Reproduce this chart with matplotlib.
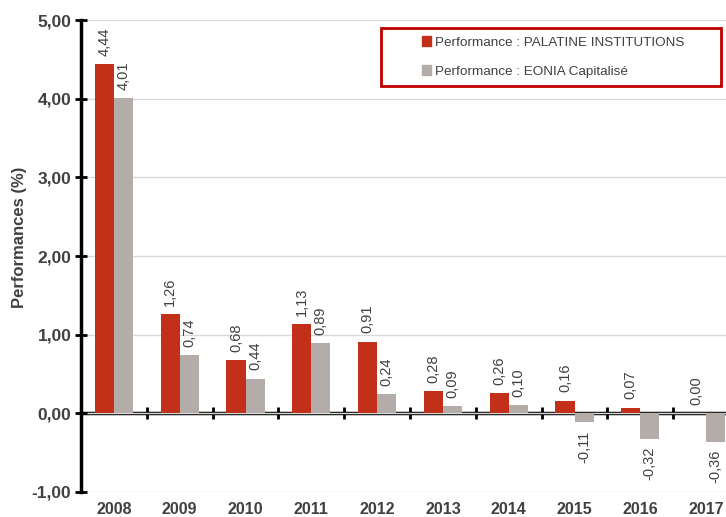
import matplotlib
matplotlib.use("Agg")
import matplotlib.pyplot as plt
from matplotlib.patches import Rectangle, Patch
import numpy as np

years = ["2008", "2009", "2010", "2011", "2012", "2013", "2014", "2015", "2016", "2017"]
palatine = [4.44, 1.26, 0.68, 1.13, 0.91, 0.28, 0.26, 0.16, 0.07, 0.00]
eonia = [4.01, 0.74, 0.44, 0.89, 0.24, 0.09, 0.10, -0.11, -0.32, -0.36]
series_names = ["Performance : PALATINE INSTITUTIONS", "Performance : EONIA Capitalisé"]
y_ticks = [-1, 0, 1, 2, 3, 4, 5]

RED = "#C3301A"
GRAY = "#B4ACA9"
plt.rcParams['font.family'] = ['Liberation Sans', 'DejaVu Sans']

fig = plt.figure(figsize=(7.26, 5.17), dpi=100)
ax = fig.add_axes([81/726, 1-492/517, 1-81/726, (492-20)/517])

x = np.arange(len(years))
w = 0.29
b1 = ax.bar(x - w/2, palatine, w, color=RED, zorder=3)
b2 = ax.bar(x + w/2, eonia, w, color=GRAY, zorder=3)

def fmt(v):
    return f"{v:.2f}".replace(".", ",")

for bars, vals in ((b1, palatine), (b2, eonia)):
    for r, v in zip(bars, vals):
        cx = r.get_x() + r.get_width()/2
        if v >= 0:
            ax.annotate(fmt(v), (cx, v), xytext=(0, 6), textcoords="offset points",
                        rotation=90, ha="center", va="bottom", fontsize=10.5, color="#404040")
        else:
            ax.annotate(fmt(v), (cx, v), xytext=(0, -6), textcoords="offset points",
                        rotation=90, ha="center", va="top", fontsize=10.5, color="#404040")

ax.set_ylim(-1, 5)
ax.set_xlim(-0.5, (726-81)/65.8 - 0.5)
ax.set_yticks(y_ticks)
ax.set_yticklabels([fmt(v) for v in y_ticks], fontweight="bold", fontsize=12.5, color="#404040")
ax.set_xticks(x)
ax.set_xticklabels(years, fontweight="bold", fontsize=11.5, color="#404040")
ax.tick_params(axis="x", length=0, pad=7)
ax.tick_params(axis="y", direction="inout", length=8, width=2, color="black", pad=3)
ax.yaxis.grid(True, color="#D9D9D9", lw=1, zorder=0)
for s in ("top", "right", "bottom"):
    ax.spines[s].set_visible(False)
ax.spines["left"].set_linewidth(2.5)
ax.spines["left"].set_zorder(5)
ax.set_ylabel("Performances (%)", fontweight="bold", fontsize=12, color="#404040", labelpad=4)
ax.yaxis.set_label_coords(-0.083, 0.54)

sec = ax.secondary_xaxis(1/6)
sec.set_xticks(np.arange(len(years)) + 0.5)
sec.set_xticklabels([])
sec.tick_params(direction="inout", length=8, width=2, color="black")
sec.spines["bottom"].set_linewidth(2.5)
sec.spines["bottom"].set_zorder(6)

rect = Rectangle((381/726, 1-86/517), (721-381)/726, (86-28)/517, transform=fig.transFigure,
                 fill=False, edgecolor="#C00000", lw=2, zorder=10)
fig.patches.append(rect)
handles = [Patch(color=RED), Patch(color=GRAY)]
fig.legend(handles, series_names, loc="center", bbox_to_anchor=(553/726, 1-57/517),
           frameon=False, fontsize=9.7, handlelength=0.7, handleheight=0.7,
           handletextpad=0.3, labelspacing=1.2, labelcolor="#404040")

fig.savefig("out.png", dpi=100)
